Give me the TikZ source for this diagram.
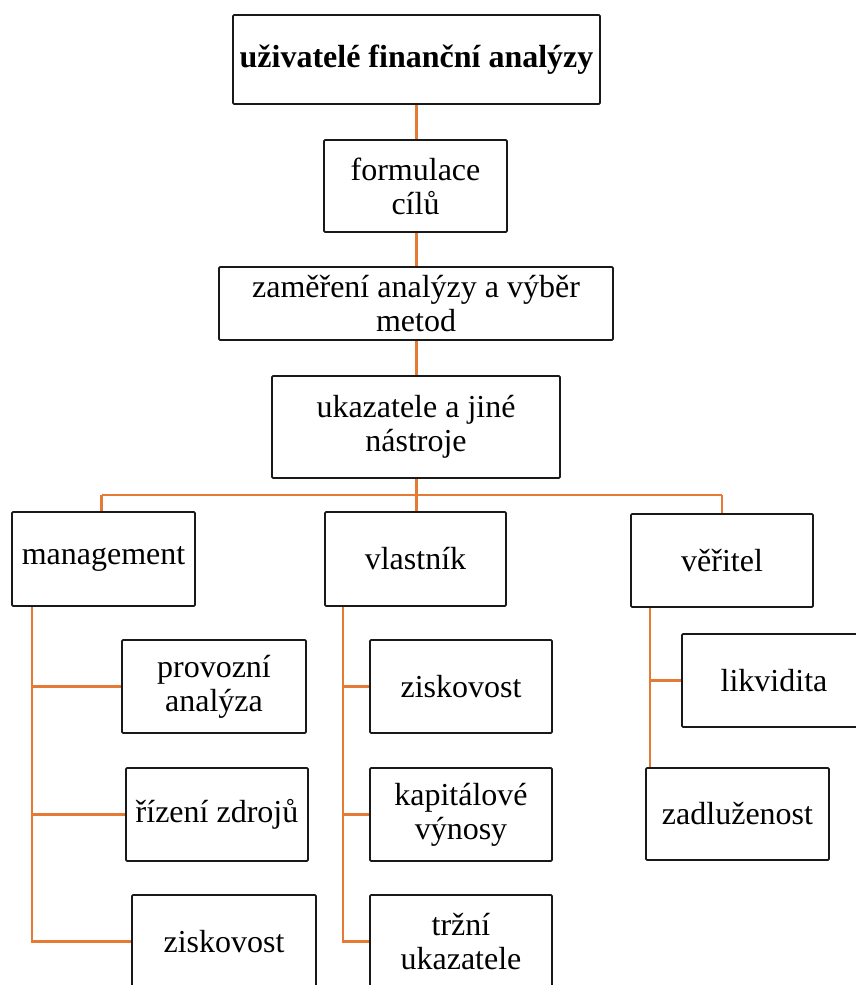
\documentclass[tikz,border=0pt]{standalone}
\usepackage{fontspec}
\setmainfont{Liberation Serif}
\definecolor{conncol}{RGB}{228,122,52}
\begin{document}
\begin{tikzpicture}[x=1pt,y=-1pt,
  box/.style={draw=black!90, line width=1.8pt, rounded corners=1.2pt, fill=white, align=center,
    inner sep=0pt, font=\fontsize{32}{34}\selectfont},
  conn/.style={draw=conncol, line width=2.8pt}]
\useasboundingbox (0,0) rectangle (856,985);
\coordinate (mgx) at (32,0);
\coordinate (vlx) at (343,0);
\coordinate (vex) at (650,0);
\coordinate (bus) at (0,495);
% boxes
\node[box, minimum width=367, minimum height=89, font=\fontsize{32}{34}\selectfont\bfseries] (top) at (416.5,59.5) {uživatelé finanční analýzy};
\node[box, minimum width=183, minimum height=92] (form) at (415.5,186) {formulace\\cílů};
\node[box, minimum width=394, minimum height=73] (zam) at (416,303.5) {zaměření analýzy a výběr\\metod};
\node[box, minimum width=288, minimum height=102] (uk) at (416,427) {ukazatele a jiné\\nástroje};
\node[box, minimum width=183, minimum height=94] (mgmt) at (103.5,559) {management};
\node[box, minimum width=181, minimum height=94] (vl) at (415.5,559) {vlastník};
\node[box, minimum width=182, minimum height=93] (ver) at (722,560.5) {věřitel};
\node[box, minimum width=184, minimum height=93] (prov) at (214,686.5) {provozní\\analýza};
\node[box, minimum width=182, minimum height=93] (riz) at (217,814.5) {řízení zdrojů};
\node[box, minimum width=184, minimum height=93] (zisk1) at (224,941.5) {ziskovost};
\node[box, minimum width=182, minimum height=93] (zisk2) at (461,686.5) {ziskovost};
\node[box, minimum width=182, minimum height=93] (kap) at (461,814.5) {kapitálové\\výnosy};
\node[box, minimum width=182, minimum height=93] (trz) at (461,941.5) {tržní\\ukazatele};
\node[box, minimum width=184, minimum height=93] (lik) at (774,680.5) {likvidita};
\node[box, minimum width=183, minimum height=92] (zad) at (737.5,814) {zadluženost};
% connectors
\draw[conn] (top.south) -- (top.south |- form.north);
\draw[conn] (form.south -| top.south) -- (zam.north -| top.south);
\draw[conn] (zam.south -| top.south) -- (uk.north -| top.south);
\draw[conn] (uk.south -| top.south) -- (vl.north -| top.south);
\draw[conn] (101.5,495) -- (722,495);
\draw[conn] (101.5,495) -- (mgmt.north -| 101.5,0);
\draw[conn] (ver.north |- bus) -- (ver.north);
\draw[conn] (mgmt.south -| mgx) |- (zisk1.west);
\draw[conn] (prov.west) -- (prov.west -| mgx);
\draw[conn] (riz.west) -- (riz.west -| mgx);
\draw[conn] (vl.south -| vlx) |- (trz.west);
\draw[conn] (zisk2.west) -- (zisk2.west -| vlx);
\draw[conn] (kap.west) -- (kap.west -| vlx);
\draw[conn] (ver.south -| vex) -- (zad.north -| vex);
\draw[conn] (lik.west) -- (lik.west -| vex);
\end{tikzpicture}
\end{document}
